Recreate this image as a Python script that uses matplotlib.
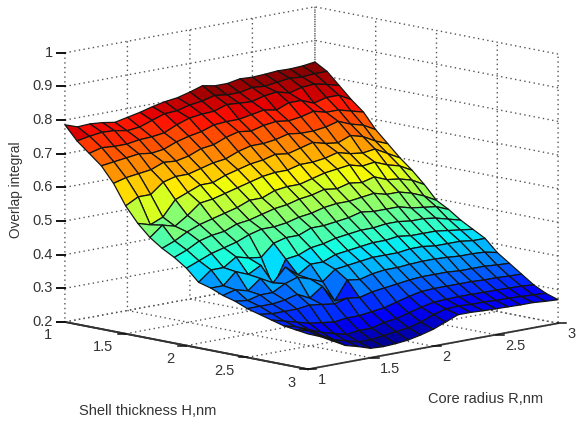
import numpy as np
import matplotlib
matplotlib.use("Agg")
import matplotlib.pyplot as plt
from matplotlib.lines import Line2D
from matplotlib.colors import Normalize
from mpl_toolkits.mplot3d import proj3d

shell_h = [1.0,1.1,1.2,1.3,1.4,1.5,1.6,1.7,1.8,1.9,2.0,2.1,2.2,2.3,2.4,2.5,2.6,2.7,2.8,2.9,3.0]
core_r = [1.0,1.1,1.2,1.3,1.4,1.5,1.6,1.7,1.8,1.9,2.0,2.1,2.2,2.3,2.4,2.5,2.6,2.7,2.8,2.9,3.0]
overlap = [
[.786,.773,.775,.772,.766,.774,.782,.792,.800,.805,.815,.827,.820,.820,.827,.825,.827,.830,.829,.831,.836],
[.745,.752,.757,.755,.748,.752,.765,.778,.780,.790,.795,.805,.800,.800,.808,.805,.810,.815,.812,.815,.815],
[.715,.725,.722,.722,.728,.730,.735,.752,.765,.770,.772,.785,.782,.780,.790,.795,.785,.795,.798,.790,.780],
[.685,.690,.695,.700,.695,.700,.715,.725,.732,.745,.748,.748,.755,.762,.755,.770,.770,.755,.765,.765,.745],
[.640,.650,.655,.660,.675,.672,.680,.695,.700,.715,.725,.720,.730,.735,.730,.735,.745,.735,.735,.725,.715],
[.580,.600,.600,.630,.640,.640,.650,.660,.665,.680,.690,.690,.695,.705,.700,.700,.705,.715,.700,.690,.670],
[.535,.524,.540,.585,.600,.615,.615,.630,.640,.650,.655,.665,.660,.670,.680,.670,.665,.680,.670,.650,.635],
[.500,.530,.520,.545,.575,.580,.590,.600,.610,.620,.625,.625,.635,.635,.640,.650,.640,.635,.640,.620,.600],
[.475,.490,.510,.525,.535,.545,.555,.570,.570,.585,.590,.590,.600,.610,.615,.620,.610,.615,.600,.590,.570],
[.455,.470,.490,.500,.505,.520,.525,.535,.545,.550,.560,.565,.575,.570,.580,.575,.585,.570,.565,.555,.535],
[.430,.445,.460,.470,.480,.495,.505,.505,.510,.520,.525,.535,.540,.540,.545,.550,.540,.540,.530,.515,.495],
[.395,.425,.425,.450,.440,.435,.470,.480,.480,.495,.495,.500,.505,.515,.510,.510,.510,.500,.495,.490,.475],
[.385,.385,.420,.405,.425,.355,.430,.435,.450,.455,.465,.470,.475,.475,.480,.480,.475,.475,.470,.460,.450],
[.370,.380,.370,.400,.380,.420,.390,.415,.415,.430,.435,.440,.445,.445,.450,.445,.445,.445,.440,.435,.430],
[.360,.355,.365,.365,.385,.397,.385,.370,.400,.405,.410,.415,.415,.415,.420,.420,.415,.415,.415,.410,.410],
[.345,.345,.345,.350,.360,.342,.370,.320,.375,.370,.380,.385,.385,.388,.390,.390,.388,.385,.385,.383,.375],
[.335,.330,.330,.330,.335,.330,.325,.335,.330,.340,.345,.350,.355,.358,.358,.358,.355,.355,.355,.352,.350],
[.325,.315,.305,.295,.290,.285,.290,.290,.295,.300,.310,.320,.328,.330,.330,.330,.330,.328,.328,.326,.325],
[.315,.305,.290,.275,.265,.255,.260,.260,.270,.275,.285,.295,.303,.305,.306,.306,.305,.305,.304,.303,.300],
[.310,.300,.280,.260,.250,.240,.240,.245,.250,.255,.265,.280,.290,.292,.290,.290,.288,.288,.286,.284,.282],
[.305,.290,.270,.250,.240,.228,.226,.228,.232,.240,.250,.265,.280,.280,.278,.277,.276,.275,.275,.272,.270],
]
h_ticks = [1, 1.5, 2, 2.5, 3]
r_ticks = [1, 1.5, 2, 2.5, 3]
z_ticks = [0.2, 0.3, 0.4, 0.5, 0.6, 0.7, 0.8, 0.9, 1]
z_labels = ['0.2', '0.3', '0.4', '0.5', '0.6', '0.7', '0.8', '0.9', '1']

plt.rcParams['font.family'] = ['Liberation Sans', 'DejaVu Sans']
W, H = 576, 423
TXT = '#333333'
fig = plt.figure(figsize=(W/100, H/100), dpi=100)
side = 576
ax = fig.add_axes([15.7/W, -60.8/H, side/W, side/H], projection='3d')
ax.set_proj_type('ortho')
ax.view_init(elev=10.9, azim=-44.2)
ax.set_box_aspect((348.6, 348.6, 274), zoom=0.951)

X, Y = np.meshgrid(shell_h, core_r, indexing='ij')
Z = np.array(overlap)
face = plt.get_cmap('jet')(Normalize(Z.min(), Z.max())(Z))
ax.plot_surface(X, Y, Z, rstride=1, cstride=1, facecolors=face,
                edgecolor='#141414', linewidth=0.9, shade=False, antialiased=True)

ax.set_xlim(1, 3, view_margin=0)
ax.set_ylim(1, 3, view_margin=0)
ax.set_zlim(0.2, 1, view_margin=0)
ax.set_xticks(h_ticks)
ax.set_yticks(r_ticks)
ax.set_zticks(z_ticks)
ax.set_xticklabels([])
ax.set_yticklabels([])
ax.set_zticklabels([])

for axis in (ax.xaxis, ax.yaxis, ax.zaxis):
    axis.set_pane_color((1, 1, 1, 0))
    axis._axinfo['grid'].update(color='#555555', linewidth=1.0, linestyle=(0, (1, 2.4)))
    axis._axinfo['tick'].update(inward_factor=0.0, outward_factor=0.0)
    axis.pane.set_edgecolor((1, 1, 1, 0))
    axis.line.set_color('#333333')
    axis.line.set_linewidth(1.3)
ax.zaxis._axinfo['juggled'] = (1, 0, 2)


def to_pixels(x, y, z):
    """Pixel position (from bottom left) of a point of the 3D box."""
    px, py, _ = proj3d.proj_transform(x, y, z, ax.get_proj())
    return ax.transData.transform((px, py))


def mark(x, y, z, dx, label, ha, tx, ty, lw):
    """Tick mark dx long and its label, offsets in pixels (y up)."""
    p = to_pixels(x, y, z)
    fig.add_artist(Line2D([p[0], p[0] + dx], [p[1], p[1]], color='#111111', lw=lw,
                          transform=None))
    fig.text((p[0] + tx) / W, (p[1] + ty) / H, label, ha=ha, va='center',
             fontsize=10.5, color=TXT)


for t in h_ticks:
    mark(t, 1, 0.2, -8, f'{t:g}', 'right', -12.5, -13.5, 1.1)
for t in r_ticks:
    mark(3, t, 0.2, 8, f'{t:g}', 'left', 9.5, -11, 1.1)
for t, s in zip(z_ticks, z_labels):
    mark(1, 1, t, -8, s, 'right', -12, 0, 1.4)

fig.text(148 / W, 1 - 411 / H, 'Shell thickness H,nm', ha='center', va='center',
         fontsize=10.5, color=TXT)
fig.text(486 / W, 1 - 399 / H, 'Core radius R,nm', ha='center', va='center',
         fontsize=10.5, color=TXT)
fig.text(16 / W, 1 - 190 / H, 'Overlap integral', ha='center', va='center', rotation=90,
         fontsize=9.8, color=TXT)

fig.savefig('out.png', dpi=100)
